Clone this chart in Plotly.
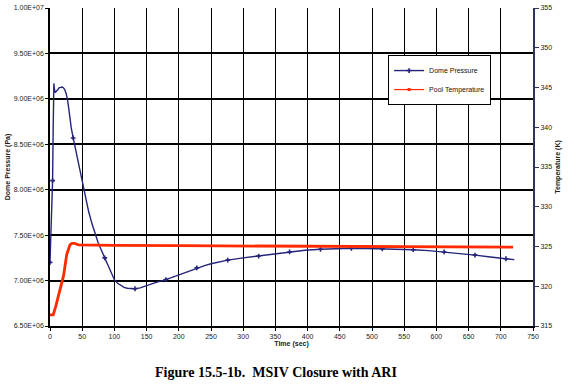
import plotly.graph_objects as go

# ---- data ----
press_t = [0, 2, 4, 5, 6, 7, 8, 10, 12, 14, 17, 19, 21, 23, 25, 27, 29, 31, 33, 36,
           40, 44, 48, 52, 56, 60, 65, 70, 75, 80, 85, 90, 95, 100, 105, 110, 115,
           120, 126, 132, 140, 150, 165, 180, 195, 210, 228, 240, 250, 262, 276,
           300, 324, 348, 372, 396, 420, 444, 468, 492, 516, 540, 564, 588, 612,
           636, 660, 684, 708, 721]
press_p = [7.20e6, 7.60e6, 8.10e6, 8.70e6, 9.17e6, 9.10e6, 9.07e6, 9.08e6, 9.10e6,
           9.12e6, 9.13e6, 9.13e6, 9.12e6, 9.10e6, 9.06e6, 9.00e6, 8.90e6, 8.78e6,
           8.68e6, 8.57e6, 8.43e6, 8.29e6, 8.15e6, 8.01e6, 7.88e6, 7.76e6, 7.63e6,
           7.51e6, 7.41e6, 7.33e6, 7.25e6, 7.16e6, 7.08e6, 7.01e6, 6.97e6, 6.945e6,
           6.925e6, 6.915e6, 6.91e6, 6.91e6, 6.92e6, 6.945e6, 6.98e6, 7.01e6, 7.05e6,
           7.09e6, 7.14e6, 7.165e6, 7.185e6, 7.205e6, 7.225e6, 7.25e6, 7.27e6,
           7.295e6, 7.315e6, 7.333e6, 7.345e6, 7.352e6, 7.355e6, 7.353e6, 7.35e6,
           7.346e6, 7.34e6, 7.33e6, 7.315e6, 7.30e6, 7.28e6, 7.26e6, 7.24e6, 7.23e6]
marker_t = [0, 4, 36, 85, 132, 180, 228, 276, 324, 372, 420, 468, 516, 564, 612, 660, 708]
marker_p = [7.20e6, 8.10e6, 8.57e6, 7.25e6, 6.91e6, 7.01e6, 7.14e6, 7.225e6, 7.27e6,
            7.315e6, 7.345e6, 7.355e6, 7.35e6, 7.34e6, 7.315e6, 7.28e6, 7.24e6]

temp_t = [0, 5, 9, 13, 17, 21, 26, 31, 34, 38, 44, 60, 100, 200, 300, 400, 500, 600, 719]
temp_k = [316.4, 316.4, 317.5, 318.7, 320.0, 321.3, 324.0, 325.2, 325.4, 325.4, 325.2,
          325.18, 325.15, 325.1, 325.05, 325.0, 324.98, 324.95, 324.92]

x_ticks = list(range(0, 751, 50))
p_ticks = [6.5e6, 7.0e6, 7.5e6, 8.0e6, 8.5e6, 9.0e6, 9.5e6, 1.0e7]
p_labels = ["6.50E+06", "7.00E+06", "7.50E+06", "8.00E+06", "8.50E+06",
            "9.00E+06", "9.50E+06", "1.00E+07"]
t_ticks = list(range(315, 356, 5))

NAVY = "#24247a"
RED = "#ff2a00"
FONT = "Arial, Liberation Sans, sans-serif"

fig = go.Figure()
fig.add_trace(go.Scatter(x=press_t, y=press_p, mode="lines", line=dict(color=NAVY, width=1.4),
                         showlegend=False, hoverinfo="skip"))
fig.add_trace(go.Scatter(x=marker_t, y=marker_p, mode="markers",
                         marker=dict(symbol="cross", size=4, color=NAVY),
                         showlegend=False, hoverinfo="skip"))
fig.add_trace(go.Scatter(x=temp_t, y=temp_k, yaxis="y2", mode="lines",
                         line=dict(color=RED, width=2.8), showlegend=False, hoverinfo="skip"))
# legend entries
fig.add_trace(go.Scatter(x=[None], y=[None], mode="lines+markers", name="Dome Pressure",
                         line=dict(color=NAVY, width=1.4),
                         marker=dict(symbol="cross", size=4, color=NAVY)))
fig.add_trace(go.Scatter(x=[None], y=[None], mode="lines+markers", name="Pool Temperature",
                         yaxis="y2", line=dict(color=RED, width=1.2),
                         marker=dict(symbol="square", size=3, color=RED)))

axfont = dict(family=FONT, size=7, color="#222")

fig.update_layout(
    width=576, height=389,
    margin=dict(l=50, r=42.5, t=8, b=63),
    paper_bgcolor="white", plot_bgcolor="white",
    xaxis=dict(range=[0, 750], tickvals=x_ticks, showgrid=True, gridcolor="black", gridwidth=1.3,
               showline=True, linecolor="black", linewidth=1.5, ticks="outside", ticklen=3,
               tickcolor="black", tickfont=axfont, zeroline=False, automargin=False,
               title=dict(text="<b>Time (sec)</b>", font=dict(family=FONT, size=7, color="#222"), standoff=1)),
    yaxis=dict(range=[6.5e6, 1.0e7], tickvals=p_ticks, ticktext=p_labels, showgrid=True,
               gridcolor="black", gridwidth=1.5, showline=True, linecolor="black", linewidth=1.5,
               ticks="outside", ticklen=3, tickcolor="black", tickfont=axfont, zeroline=False,
               automargin=False,
               title=dict(text="<b>Dome Pressure (Pa)</b>", font=dict(family=FONT, size=7, color="#2a1a1a"), standoff=2)),
    yaxis2=dict(range=[315, 355], tickvals=t_ticks, overlaying="y", side="right", showgrid=False,
                showline=True, linecolor="#333355", linewidth=2, ticks="outside", ticklen=4,
                tickcolor="#333355", tickfont=axfont, zeroline=False, automargin=False,
                title=dict(text="<b>Temperature (K)</b>", font=dict(family=FONT, size=7, color="#222"), standoff=4)),
    legend=dict(x=0.70, y=0.852, xanchor="left", yanchor="top", bgcolor="white",
                bordercolor="black", borderwidth=1, font=dict(family=FONT, size=7, color="#111"),
                tracegroupgap=0, itemwidth=30),
    showlegend=True,
    annotations=[dict(text="<b>Figure 15.5-1b.  MSIV Closure with ARI</b>", xref="paper", yref="paper",
                      x=0.467, y=-0.115, xanchor="center", yanchor="top", showarrow=False,
                      font=dict(family="Liberation Serif, Times New Roman, serif", size=14, color="black"))],
)

fig.write_html("out.html", config={"displayModeBar": False},
               post_script="document.body.style.margin='0';")
